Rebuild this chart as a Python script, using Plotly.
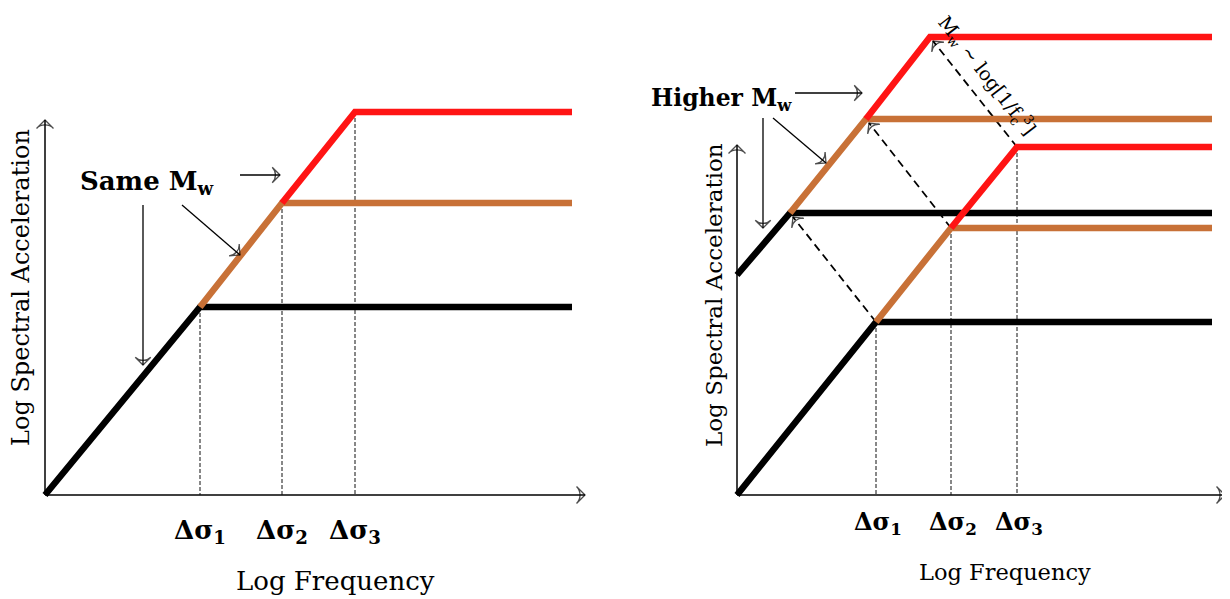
import plotly.graph_objects as go

# ---------------- data (conceptual log units) ----------------
# Left panel: same Mw, three stress drops
left_fc = [3.1, 4.74, 6.2]          # corner frequencies (Δσ1, Δσ2, Δσ3)
left_plateau = [3.76, 5.84, 7.66]   # plateau log SA
left_x_end = 10.54

# Right panel: lower-Mw set and higher-Mw set
right_low_fc = [2.78, 4.28, 5.6]
right_low_plateau = [3.46, 5.34, 6.96]
right_up_start = 4.4
right_up_fc = [1.06, 2.58, 3.86]
right_up_plateau = [5.64, 7.52, 9.16]
right_x_end = 9.5

delta_labels = ["Δσ<sub>1</sub>", "Δσ<sub>2</sub>", "Δσ<sub>3</sub>"]
series_colors = ["#000000", "#C87137", "#FF1414"]

# axis extents
left_xaxis_end, left_yaxis_end = 10.8, 7.5
right_xaxis_end, right_yaxis_end = 9.76, 7.0

# annotation arrows [x0, y0, x1, y1]
left_arrows = [[3.9, 6.4, 4.7, 6.4], [2.74, 5.8, 3.9, 4.8], [1.96, 5.8, 1.96, 2.6]]
right_arrows = [[1.16, 8.04, 2.5, 8.04], [0.72, 7.54, 1.78, 6.64], [0.52, 7.54, 0.52, 5.34]]

FONT = "DejaVu Serif"

fig = go.Figure()


def thick(x, y, color, xa, ya):
    fig.add_trace(go.Scatter(x=x, y=y, mode="lines", xaxis=xa, yaxis=ya,
                             line=dict(color=color, width=6.5), hoverinfo="skip",
                             showlegend=False))


def arrow(x0, y0, x1, y1, xa, ya, dash="solid", width=1.3, size=11):
    fig.add_trace(go.Scatter(x=[x0, x1], y=[y0, y1], mode="lines+markers",
                             xaxis=xa, yaxis=ya,
                             line=dict(color="black", width=width, dash=dash),
                             marker=dict(symbol=["circle", "arrow-wide-open"],
                                         size=[0, size], angleref="previous",
                                         color="black",
                                         line=dict(color="black", width=1.3)),
                             hoverinfo="skip", showlegend=False))


def vline(x, y, xa, ya):
    fig.add_trace(go.Scatter(x=[x, x], y=[y, 0], mode="lines", xaxis=xa, yaxis=ya,
                             line=dict(color="#111111", width=1, dash="4px,2px"),
                             hoverinfo="skip", showlegend=False))


# ---------------- left panel ----------------
xa, ya = "x", "y"
arrow(0, 0, left_xaxis_end, 0, xa, ya, width=1.5, size=12)
arrow(0, 0, 0, left_yaxis_end, xa, ya, width=1.5, size=12)
for fc, p in zip(left_fc, left_plateau):
    vline(fc, p, xa, ya)
starts_x = [0, left_fc[0], left_fc[1]]
starts_y = [0, left_plateau[0], left_plateau[1]]
for i in range(3):
    thick([starts_x[i], left_fc[i], left_x_end],
          [starts_y[i], left_plateau[i], left_plateau[i]], series_colors[i], xa, ya)
for a in left_arrows:
    arrow(*a, xa, ya)

# ---------------- right panel ----------------
xa, ya = "x2", "y2"
arrow(0, 0, right_xaxis_end, 0, xa, ya, width=1.5, size=12)
arrow(0, 0, 0, right_yaxis_end, xa, ya, width=1.5, size=12)
for fc, p in zip(right_low_fc, right_low_plateau):
    vline(fc, p, xa, ya)
# dashed arrows from lower set corners to higher-Mw corners
for i in range(3):
    arrow(right_low_fc[i], right_low_plateau[i],
          right_up_fc[i] + 0.06, right_up_plateau[i] - 0.08, xa, ya,
          dash="8px,5px", width=1.8, size=11)
up_sx = [0, right_up_fc[0], right_up_fc[1]]
up_sy = [right_up_start, right_up_plateau[0], right_up_plateau[1]]
for i in range(3):
    thick([up_sx[i], right_up_fc[i], right_x_end],
          [up_sy[i], right_up_plateau[i], right_up_plateau[i]], series_colors[i], xa, ya)
lo_sx = [0, right_low_fc[0], right_low_fc[1]]
lo_sy = [0, right_low_plateau[0], right_low_plateau[1]]
for i in range(3):
    thick([lo_sx[i], right_low_fc[i], right_x_end],
          [lo_sy[i], right_low_plateau[i], right_low_plateau[i]], series_colors[i], xa, ya)
for a in right_arrows:
    arrow(*a, xa, ya)

# ---------------- text ----------------
ann = []
for fc, lab in zip(left_fc, delta_labels):
    ann.append(dict(x=fc, y=-0.72, xref="x", yref="y", text="<b>" + lab + "</b>",
                    showarrow=False, font=dict(family=FONT, size=26, color="black")))
for fc, lab in zip(right_low_fc, delta_labels):
    ann.append(dict(x=fc + 0.04, y=-0.56, xref="x2", yref="y2", text="<b>" + lab + "</b>",
                    showarrow=False, font=dict(family=FONT, size=24, color="black")))
ann += [
    dict(x=5.8, y=-1.72, xref="x", yref="y", text="Log Frequency", showarrow=False,
         font=dict(family=FONT, size=26, color="black")),
    dict(x=5.36, y=-1.54, xref="x2", yref="y2", text="Log Frequency", showarrow=False,
         font=dict(family=FONT, size=22.5, color="black")),
    dict(x=-0.48, y=4.14, xref="x", yref="y", text="Log Spectral Acceleration",
         showarrow=False, textangle=-90, font=dict(family=FONT, size=24, color="black")),
    dict(x=-0.46, y=4.0, xref="x2", yref="y2", text="Log Spectral Acceleration",
         showarrow=False, textangle=-90, font=dict(family=FONT, size=23, color="black")),
    dict(x=2.04, y=6.26, xref="x", yref="y", text="<b>Same M<sub>w</sub></b>",
         showarrow=False, font=dict(family=FONT, size=26, color="black")),
    dict(x=-0.32, y=7.92, xref="x2", yref="y2", text="<b>Higher M<sub>w</sub></b>",
         showarrow=False, font=dict(family=FONT, size=23.5, color="black")),
    dict(x=5.0, y=8.4, xref="x2", yref="y2",
         text="M<sub>w</sub> ~ log[1/f<sub>c</sub><sup>3</sup>]",
         showarrow=False, textangle=52, font=dict(family=FONT, size=19, color="black")),
]

ax_common = dict(visible=False, fixedrange=True)
fig.update_layout(
    width=1230, height=599,
    margin=dict(l=0, r=0, t=0, b=0),
    paper_bgcolor="white", plot_bgcolor="white",
    showlegend=False,
    xaxis=dict(domain=[0, 0.5], range=[-0.74, 11.56], **ax_common),
    yaxis=dict(domain=[0, 1], range=[-2.24, 9.74], **ax_common),
    xaxis2=dict(domain=[0.5, 1], range=[-2.28, 10.02], **ax_common),
    yaxis2=dict(domain=[0, 1], range=[-2.24, 9.74], anchor="x2", **ax_common),
    annotations=ann,
)

fig.write_html("out.html")
